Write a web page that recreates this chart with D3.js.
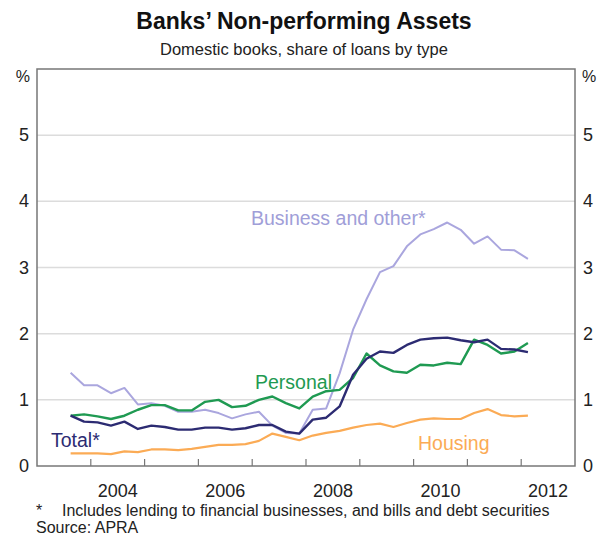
<!DOCTYPE html>
<html lang="en">
<head>
  <meta charset="UTF-8">
  <title>Banks' Non-performing Assets</title>
  <script src="https://cdn.jsdelivr.net/npm/d3@7"></script>
  <style>
    body { margin: 0; background: #fff; }
    text { font-family: Arial, "Liberation Sans", sans-serif; }
  </style>
</head>
<body>
  <svg width="607" height="536"></svg>
  <script>
    // quarterly, first point Q3 2003
    var startYear = 2003.625
    var business = [1.41, 1.22, 1.22, 1.10, 1.18, 0.93, 0.95, 0.91, 0.82, 0.82,
      0.85, 0.80, 0.72, 0.78, 0.82, 0.61, 0.50, 0.49, 0.85, 0.87,
      1.40, 2.06, 2.52, 2.93, 3.02, 3.32, 3.50, 3.58, 3.68, 3.57,
      3.36, 3.47, 3.27, 3.26, 3.13]
    var personal = [0.76, 0.78, 0.75, 0.71, 0.76, 0.85, 0.92, 0.92, 0.84, 0.84,
      0.97, 1.00, 0.89, 0.91, 1.00, 1.05, 0.95, 0.87, 1.05, 1.13,
      1.15, 1.33, 1.70, 1.52, 1.43, 1.41, 1.53, 1.52, 1.56, 1.54,
      1.91, 1.83, 1.70, 1.73, 1.86]
    var total = [0.76, 0.67, 0.66, 0.61, 0.67, 0.56, 0.61, 0.59, 0.55, 0.55,
      0.58, 0.58, 0.55, 0.57, 0.62, 0.62, 0.52, 0.49, 0.70, 0.73,
      0.90, 1.38, 1.62, 1.73, 1.71, 1.83, 1.91, 1.93, 1.94, 1.90,
      1.87, 1.91, 1.77, 1.76, 1.72]
    var housing = [0.19, 0.19, 0.19, 0.18, 0.22, 0.21, 0.25, 0.25, 0.24, 0.26,
      0.29, 0.32, 0.32, 0.33, 0.38, 0.49, 0.44, 0.39, 0.46, 0.50,
      0.53, 0.58, 0.62, 0.64, 0.59, 0.65, 0.70, 0.72, 0.71, 0.71,
      0.80, 0.86, 0.77, 0.75, 0.76]
    var yTicks = [0, 1, 2, 3, 4, 5]
    var yearLabels = [2004, 2006, 2008, 2010, 2012]

    var svg = d3.select('svg')
    var m = { left: 37, right: 575, top: 69, bottom: 466 }

    var x = d3.scaleLinear().domain([2003, 2013]).range([m.left, m.right])
    var y = d3.scaleLinear().domain([0, 6]).range([m.bottom, m.top])

    // titles
    svg.append('text')
      .attr('x', 304).attr('y', 29)
      .attr('text-anchor', 'middle')
      .style('font-size', '23px').style('font-weight', 'bold').style('fill', '#111')
      .text('Banks’ Non-performing Assets')
    svg.append('text')
      .attr('x', 304).attr('y', 55)
      .attr('text-anchor', 'middle')
      .style('font-size', '16.5px').style('fill', '#222')
      .text('Domestic books, share of loans by type')

    // gridlines
    svg.append('g')
      .selectAll('line')
      .data(yTicks.filter(d => d > 0))
      .enter()
      .append('line')
      .attr('x1', m.left).attr('x2', m.right)
      .attr('y1', d => y(d)).attr('y2', d => y(d))
      .attr('stroke', '#dcdcdc').attr('stroke-width', 1.5)

    // year ticks
    var years = d3.range(2004, 2013)
    svg.append('g')
      .selectAll('line')
      .data(years)
      .enter()
      .append('line')
      .attr('x1', d => x(d)).attr('x2', d => x(d))
      .attr('y1', m.bottom).attr('y2', m.bottom - 7)
      .attr('stroke', '#777').attr('stroke-width', 1.2)

    // frame
    svg.append('rect')
      .attr('x', m.left).attr('y', m.top)
      .attr('width', m.right - m.left).attr('height', m.bottom - m.top)
      .attr('fill', 'none').attr('stroke', '#777').attr('stroke-width', 1.5)

    // y labels both sides
    var yl = svg.append('g').style('font-size', '18px').style('fill', '#222')
    yl.selectAll('.yl')
      .data(yTicks)
      .enter()
      .append('text')
      .attr('x', m.left - 8).attr('y', d => y(d) + 6)
      .attr('text-anchor', 'end')
      .text(d => d)
    yl.selectAll('.yr')
      .data(yTicks)
      .enter()
      .append('text')
      .attr('x', m.right + 8).attr('y', d => y(d) + 6)
      .text(d => d)
    yl.append('text').attr('x', m.left - 7).attr('y', 82).attr('text-anchor', 'end').style('font-size', '16px').text('%')
    yl.append('text').attr('x', m.right + 7).attr('y', 82).style('font-size', '16px').text('%')

    // x labels
    svg.append('g')
      .selectAll('text')
      .data(yearLabels)
      .enter()
      .append('text')
      .attr('x', d => x(d + 0.5)).attr('y', 497)
      .attr('text-anchor', 'middle')
      .style('font-size', '18px').style('fill', '#222')
      .text(d => d)

    // lines
    var line = d3.line()
      .x((d, i) => x(startYear + i * 0.25))
      .y(d => y(d))
    var series = [
      { values: business, color: '#aaa6de', width: 2 },
      { values: housing, color: '#fbab55', width: 2.2 },
      { values: personal, color: '#1f9a52', width: 2.4 },
      { values: total, color: '#2c2b72', width: 2.4 }
    ]
    svg.append('g')
      .selectAll('path')
      .data(series)
      .enter()
      .append('path')
      .attr('d', d => line(d.values))
      .attr('fill', 'none')
      .attr('stroke', d => d.color)
      .attr('stroke-width', d => d.width)
      .attr('stroke-linejoin', 'round')

    // series labels
    var labels = [
      { text: 'Business and other*', x: 251, y: 225, color: '#a09ed8' },
      { text: 'Personal', x: 255, y: 389, color: '#1f9a52' },
      { text: 'Total*', x: 51, y: 447, color: '#2c2b72' },
      { text: 'Housing', x: 418, y: 450, color: '#fbab55' }
    ]
    svg.append('g')
      .selectAll('text')
      .data(labels)
      .enter()
      .append('text')
      .attr('x', d => d.x).attr('y', d => d.y)
      .style('font-size', '19.5px')
      .style('fill', d => d.color)
      .text(d => d.text)

    // footnotes
    var fn = svg.append('g').style('font-size', '16px').style('fill', '#222')
    fn.append('text').attr('x', 36).attr('y', 516).text('*')
    fn.append('text').attr('x', 62).attr('y', 516).text('Includes lending to financial businesses, and bills and debt securities')
    fn.append('text').attr('x', 36).attr('y', 533).text('Source: APRA')
  </script>
</body>
</html>
